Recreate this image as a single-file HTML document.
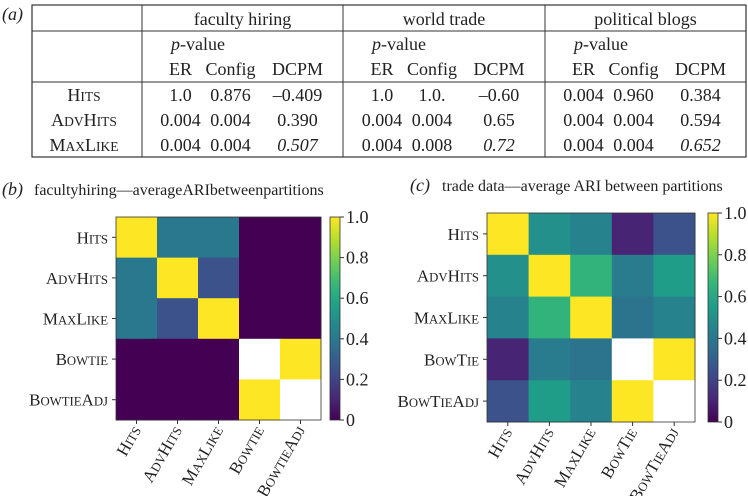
<!DOCTYPE html>
<html><head><meta charset="utf-8"><style>
body{margin:0;width:748px;height:496px;background:#fff;overflow:hidden;font-family:"Liberation Serif",serif;color:#222}
svg text{font-family:"Liberation Serif",serif}
</style></head><body>
<svg id="s" width="748" height="496">
<g id="tbl"></g>
<g id="hb"></g>
<g id="hc"></g>
</svg>
<script>
const NS="http://www.w3.org/2000/svg";
const methods=["Hits","AdvHits","MaxLike"];
const datasets=["faculty hiring","world trade","political blogs"];
const tableVals=[
 ["1.0","0.876","\u20130.409","1.0","1.0.","\u20130.60","0.004","0.960","0.384"],
 ["0.004","0.004","0.390","0.004","0.004","0.65","0.004","0.004","0.594"],
 ["0.004","0.004","0.507","0.004","0.008","0.72","0.004","0.004","0.652"]];
const catsB=["Hits","AdvHits","MaxLike","Bowtie","BowtieAdj"];
const catsC=["Hits","AdvHits","MaxLike","BowTie","BowTieAdj"];
const valsB=[[1,0.4,0.4,0,0],[0.4,1,0.25,0,0],[0.4,0.25,1,0,0],[0,0,0,null,1],[0,0,0,1,null]];
const valsC=[[1,0.5,0.45,0.1,0.25],[0.5,1,0.65,0.42,0.55],[0.45,0.65,1,0.38,0.45],[0.1,0.42,0.38,null,1],[0.25,0.55,0.45,1,null]];
const cbTicks=["0","0.2","0.4","0.6","0.8","1.0"];
function el(p,t,a,txt){const e=document.createElementNS(NS,t);for(const k in a)e.setAttribute(k,a[k]);if(txt!=null)e.textContent=txt;p.appendChild(e);return e;}
function sc(p,name,x,y,size,anchor,rot){
 const t=el(p,"text",{x:x,y:y,"font-size":size,"text-anchor":anchor,fill:"#222"});
 
 
 if(rot)t.setAttribute("transform",rot);
 const re=/[A-Z]+|[a-z]+/g;let m;
 while((m=re.exec(name))){const s=el(t,"tspan",{},m[0].toUpperCase());if(/[a-z]/.test(m[0]))s.setAttribute("font-size",size*0.75);}
 return t;}
function tx(p,x,y,size,txt,name,extra){
 const t=el(p,"text",Object.assign({x:x,y:y,"font-size":size,fill:"#222"},extra||{}),txt);
 
 
 return t;}
// table
const T=document.getElementById("tbl");
tx(T,2,20,18,"(a)","panel-a-label",{"font-style":"italic"});
const tL=32,tR=746,tTop=5,tBot=157,seps=[142,343,545];
el(T,"rect",{x:tL,y:tTop,width:tR-tL,height:tBot-tTop,fill:"none",stroke:"#333","stroke-width":1.2});
el(T,"line",{x1:tL,y1:31,x2:tR,y2:31,stroke:"#333"});
el(T,"line",{x1:tL,y1:82,x2:tR,y2:82,stroke:"#333"});
seps.forEach(x=>el(T,"line",{x1:x,y1:tTop,x2:x,y2:tBot,stroke:"#333"}));
const colOff=[-62,-12,55];
datasets.forEach((d,i)=>{
 const x0=seps[i],x1=i<2?seps[i+1]:tR,cx=(x0+x1)/2;
 tx(T,cx,25,18,d,"dataset-header",{"text-anchor":"middle"});
 const pv=tx(T,x0+29,50,18,null,"pvalue-header");
 el(pv,"tspan",{"font-style":"italic"},"p");el(pv,"tspan",{},"-value");
 ["ER","Config","DCPM"].forEach((h,j)=>tx(T,cx+colOff[j],75,18,h,"column-header",{"text-anchor":"middle"}));
 methods.forEach((m,r)=>{for(let j=0;j<3;j++){const t=tx(T,cx+colOff[j],101+r*25,18,tableVals[r][i*3+j],"table-value",{"text-anchor":"middle"});if(j==2&&r==2)t.setAttribute("font-style","italic");}});
});
methods.forEach((m,r)=>sc(T,m,84,101+r*25,18,"middle"));
// viridis
const V=[[68,1,84],[72,40,120],[62,74,137],[49,104,142],[38,130,142],[31,158,137],[53,183,121],[110,206,88],[181,222,43],[253,231,37]];
function vir(v){const f=Math.max(0,Math.min(1,v))*9,i=Math.min(8,Math.floor(f)),t=f-i;const a=V[i],b=V[i+1];return "rgb("+a.map((c,k)=>Math.round(c+(b[k]-c)*t)).join(",")+")";}
function heat(g,x0,y0,w,h,cats,vals,cbx,title,lab,lx){
 tx(g,lx,y0-22,18,lab,"panel-label",{"font-style":"italic"});
 tx(g,lx+32,y0-22,16,title,"chart-title");
 const n=cats.length,cw=w/n,ch=h/n;
 vals.forEach((row,r)=>row.forEach((v,c)=>{
  const rc=el(g,"rect",{x:x0+c*cw,y:y0+r*ch,width:cw+0.5,height:ch+0.5,fill:v==null?"#fff":vir(v)});
  
  
 }));
 el(g,"rect",{x:x0,y:y0,width:w,height:h,fill:"none",stroke:"#333","stroke-width":0.8});
 cats.forEach((c,i)=>{
  const cy=y0+(i+0.5)*ch,cx=x0+(i+0.5)*cw;
  el(g,"line",{x1:x0-4,y1:cy,x2:x0,y2:cy,stroke:"#333"});
  sc(g,c,x0-8,cy+6,17,"end");
  el(g,"line",{x1:cx,y1:y0+h,x2:cx,y2:y0+h+4,stroke:"#333"});
  sc(g,c,cx+5,y0+h+10,17,"end","rotate(-60 "+(cx+5)+" "+(y0+h+10)+")");
 });
 const gid="gr"+lx;const defs=el(g,"defs",{});const lg=el(defs,"linearGradient",{id:gid,x1:0,y1:1,x2:0,y2:0});
 for(let i=0;i<=9;i++)el(lg,"stop",{offset:i/9,"stop-color":vir(i/9)});
 const cb=el(g,"rect",{x:cbx,y:y0,width:10,height:h,fill:"url(#"+gid+")",stroke:"#333","stroke-width":0.8});
 
 
 cbTicks.forEach((t,i)=>{const y=y0+h-h*(+t);el(g,"line",{x1:cbx+10,y1:y,x2:cbx+14,y2:y,stroke:"#333"});
  tx(g,cbx+16,y+6,18,t,"colorbar-tick");});
}
heat(document.getElementById("hb"),116,217,205,203,catsB,valsB,330,"facultyhiring\u2014averageARIbetweenpartitions","(b)",2);
heat(document.getElementById("hc"),487,213,208,209,catsC,valsC,708,"trade data\u2014average ARI between partitions","(c)",410);
</script>
</body></html>
